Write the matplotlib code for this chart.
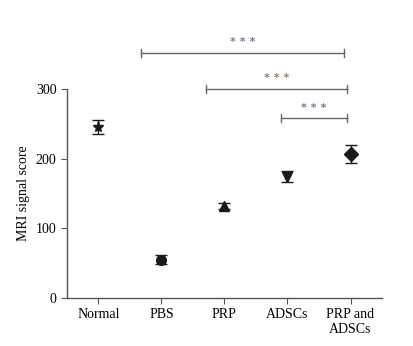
import matplotlib
matplotlib.use("Agg")
import matplotlib.pyplot as plt

categories = ["Normal", "PBS", "PRP", "ADSCs", "PRP and\nADSCs"]
means = [246, 55, 132, 174, 207]
errors = [10, 6, 4, 8, 13]
markers = ["*", "o", "^", "v", "D"]

# significance brackets: (x start, x end, height, star colour)
brackets = [
    (0.68, 3.89, 352, "#6a7a98"),
    (1.71, 3.95, 300, "#9a7a5a"),
    (2.90, 3.94, 258, "#6a7a98"),
]

plt.rcParams["font.family"] = ["Liberation Serif", "DejaVu Serif"]

fig = plt.figure(figsize=(4.13, 3.46), dpi=100)
ax = fig.add_axes([0.162, 0.139, 0.763, 0.604])

for i, (m, e, mk) in enumerate(zip(means, errors, markers)):
    ax.errorbar(i, m, yerr=e, fmt=mk, color="#1a1a1a", markersize=8 if mk == "*" else 7,
                capsize=4, elinewidth=1, capthick=1, ecolor="#1a1a1a")

ax.set_xlim(-0.5, 4.5)
ax.set_ylim(0, 300)
ax.set_yticks([0, 100, 200, 300])
ax.set_xticks(range(len(categories)))
ax.set_xticklabels(categories, fontsize=10)
ax.tick_params(axis="y", labelsize=10, length=4, color="#555555")
ax.tick_params(axis="x", length=4, color="#555555")
ax.set_ylabel("MRI signal score", fontsize=10)
for s in ["top", "right"]:
    ax.spines[s].set_visible(False)
for s in ["left", "bottom"]:
    ax.spines[s].set_color("#555555")
    ax.spines[s].set_linewidth(1)

for x0, x1, h, c in brackets:
    ax.plot([x0, x1], [h, h], color="#666666", lw=1, clip_on=False)
    ax.plot([x0, x0], [h - 6, h + 6], color="#666666", lw=1, clip_on=False)
    ax.plot([x1, x1], [h - 6, h + 6], color="#666666", lw=1, clip_on=False)
    ax.text((x0 + x1) / 2, h + 8, "* * *", ha="center", va="bottom", fontsize=8,
            color=c, fontweight="bold", clip_on=False, family="DejaVu Sans")

fig.savefig("out.png", dpi=100)
